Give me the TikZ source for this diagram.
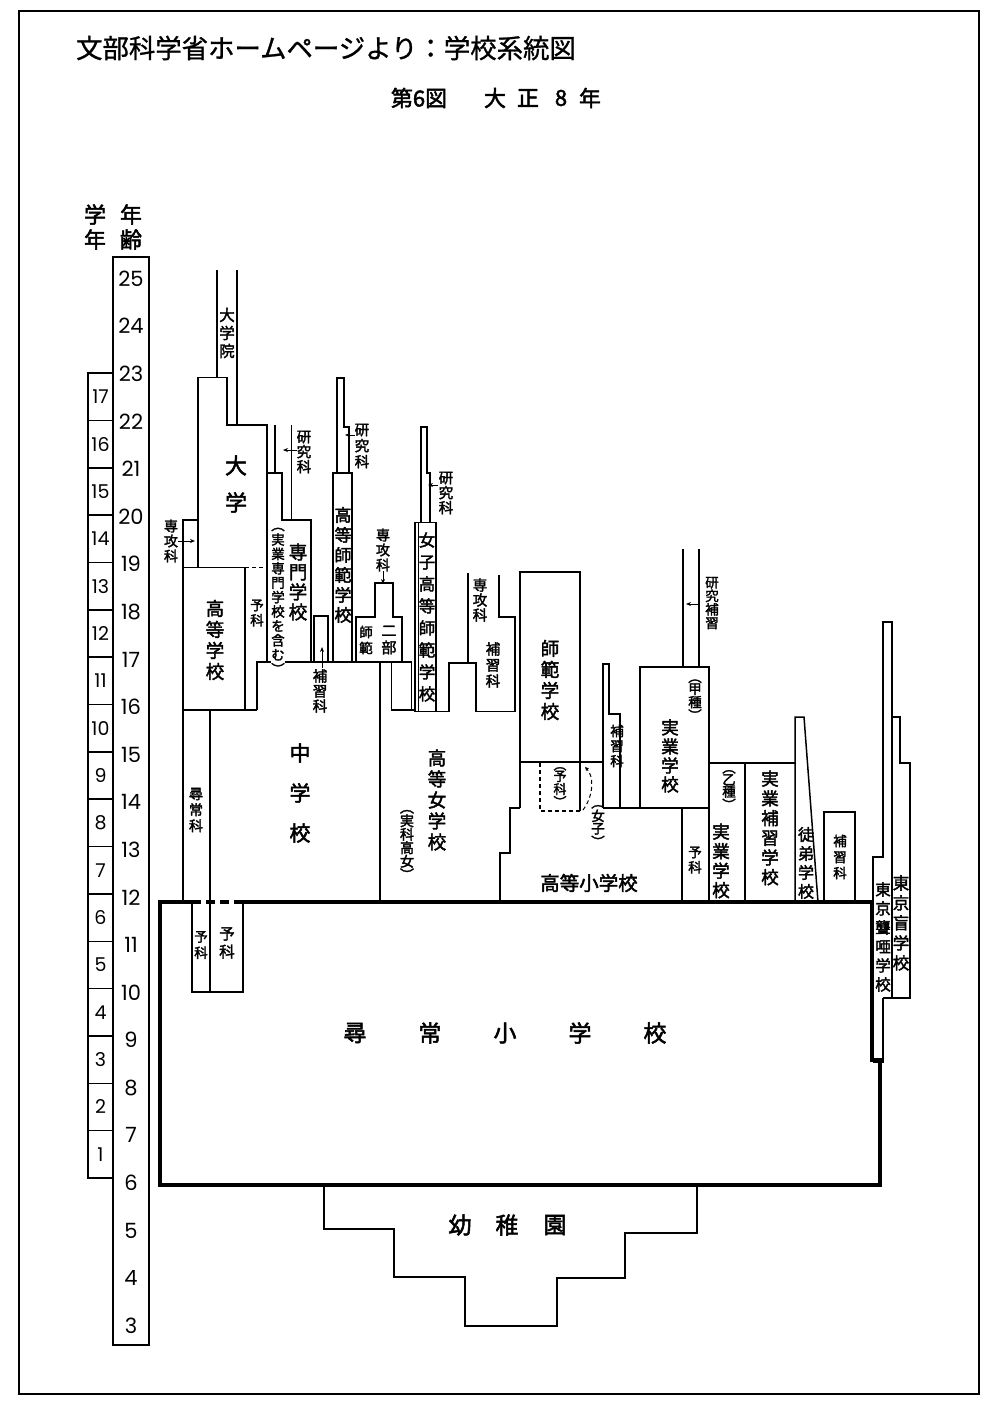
\documentclass[tikz,border=0pt]{standalone}
\usepackage{fontspec}
\newfontfamily\jp{Noto Sans CJK JP}
\newfontfamily\jpt[FakeBold=1]{Noto Sans CJK JP}
\newfontfamily\jpb[FakeBold=2.2]{Noto Sans CJK JP}
\newfontfamily\numf{Poppins}
\usetikzlibrary{arrows.meta}
\begin{document}
\begin{tikzpicture}[x=1pt,y=-1pt,
  ln/.style={draw=black, line width=1.5pt},
  bx/.style={draw=black, line width=3.6pt},
  dsh/.style={draw=black, line width=1.4pt, dash pattern=on 4pt off 3pt},
  bdsh/.style={draw=black, line width=3.6pt, dash pattern=on 9pt off 5pt},
  arr/.style={draw=black, line width=1pt, -{Stealth[length=5pt,width=4pt]}},
  vt/.style 2 args={inner sep=0pt, align=center, font={\jpb\fontsize{#1}{#2}\selectfont}},
  hz/.style={inner sep=0pt, font={\jpb\fontsize{#1}{#1}\selectfont}},
  agen/.style={inner sep=0pt, font={\numf\fontsize{21}{21}\selectfont}},
  grn/.style={inner sep=0pt, font={\numf\fontsize{19}{19}\selectfont}}]
\useasboundingbox (0,0) rectangle (1000,1406);
\fill[white] (0,0) rectangle (1000,1406);
% frame
\draw[line width=1.3pt] (19,11) rectangle (979,1394);
% titles
\node[inner sep=0pt, font={\jpt\fontsize{26.4}{26.4}\selectfont}] (title) at (326,48) {文部科学省ホームページより：学校系統図};
\node[hz=22] (st1) at (419,98) {第6図};
\node[hz=22] (st2) at (495,98) {大};
\node[hz=22] (st3) at (528,98) {正};
\node[hz=22] (st4) at (561,98) {8};
\node[hz=22] (st5) at (590,98) {年};
% scales
\node[vt={22}{25}] (hgakunen) at (95,227) {学\\年};
\node[vt={22}{25}] (hnenrei) at (131,227) {年\\齢};
\draw[ln] (113,257) rectangle (149,1345);
\draw[ln] (88,373) rectangle (113,1178);
\foreach \k in {1,...,16} \draw[ln] (88,{1178-\k*47.35}) -- (113,{1178-\k*47.35});
\foreach \k in {1,...,17} \node[grn] (g\k) at (100.5,{1178-(\k-0.5)*47.35}) {\k};
\foreach \a in {3,...,25} \node[agen] (a\a) at (131,{1183-(\a-6)*47.6}) {\a};
% ---------- thin lines ----------
% daigakuin
\draw[ln] (217,270) -- (217,377.5);
\draw[ln] (237,270) -- (237,425);
% daigaku outline and yoka
\draw[ln] (198,567.5) -- (198,377.5) -- (227,377.5) -- (227,425) -- (267,425) -- (267,662) -- (257,662) -- (257,710);
\draw[ln] (198,520) -- (183,520) -- (183,902);
\draw[ln] (183,567.5) -- (245,567.5);
\draw[dsh] (245,567.5) -- (267,567.5);
\draw[ln] (245,567.5) -- (245,710);
\draw[ln] (183,710) -- (257,710);
% chugakko
\draw[ln] (210,710) -- (210,992);
\draw[ln] (192,902) -- (192,992) -- (243,992) -- (243,902);
\draw[ln] (257,662) -- (411.7,662);
\draw[ln] (380,662) -- (380,902);
% senmon gakko
\draw[ln] (275,425) -- (275,473);
\draw[ln] (291.7,425) -- (291.7,520);
\draw[ln] (267,473) -- (282,473) -- (282,520) -- (311,520) -- (311,662);
\draw[ln] (314,662) -- (314,616) -- (328,616) -- (328,662);
% koto shihan
\draw[ln] (333,662) -- (333,473) -- (352,473) -- (352,662);
\draw[ln] (337,473) -- (337,378) -- (344,378) -- (344,427) -- (349,427) -- (349,473);
% shihan nibu
\draw[ln] (356,662) -- (356,617) -- (375,617) -- (375,583) -- (393,583) -- (393,617) -- (402,617) -- (402,662);
\draw[ln] (411.7,662) -- (411.7,710);
\draw[ln] (391.7,662) -- (391.7,710) -- (415,710);
% joshi koto shihan
\draw[ln] (415,522.7) rectangle (436,711.7);
\draw[ln] (418.5,522.7) -- (418.5,711.7);
\draw[ln] (421,522.7) -- (421,427) -- (427,427) -- (427,473) -- (430,473) -- (430,522.7);
\draw[ln] (436,711.7) -- (449,711.7) -- (449,663) -- (476,663) -- (476,711.7) -- (515,711.7) -- (515,617) -- (499,617) -- (499,575);
\draw[ln] (468,663) -- (468,573);
% shihan gakko
\draw[ln] (520,808) -- (520,572) -- (580,572) -- (580,811);
\draw[ln] (520,762) -- (603,762);
\draw[ln] (520,808) -- (510,808) -- (510,853) -- (500,853) -- (500,902);
\draw[dsh] (580,811) -- (540,811) -- (540,762);
\draw[dsh, line width=1pt, -{Stealth[length=4pt,width=4pt]}] (583,810) .. controls (594,795) and (594,776) .. (585,767);
% hoshuka column
\draw[ln] (603,808) -- (603,664) -- (609,664) -- (609,714) -- (620,714) -- (620,808);
\draw[ln] (603,808) -- (709,808);
% jitsugyo ko
\draw[ln] (640,808) -- (640,667) -- (709,667) -- (709,902);
\draw[ln] (682,808) -- (682,902);
\draw[ln] (683,549) -- (683,667);
\draw[ln] (699,549) -- (699,667);
% otsu, hoshu, totei
\draw[ln] (709,763) -- (795,763);
\draw[ln] (745,763) -- (745,902);
\draw[ln] (795,902) -- (795,717) -- (804,717) -- (818,902);
\draw[ln] (824,902) -- (824,812) -- (855,812) -- (855,902);
% tokyo roua / mo
\draw[ln] (873,1062) -- (873,857) -- (883,857) -- (883,622) -- (892,622) -- (892,998);
\draw[ln] (883,998) -- (883,1062) -- (873,1062);
\draw[ln] (892,717) -- (900,717) -- (900,763) -- (910,763) -- (910,998) -- (883,998);
% ---------- thick elementary box ----------
\draw[bx] (192,902) -- (160,902) -- (160,1185) -- (880,1185) -- (880,1060) -- (872,1060) -- (872,902) -- (243,902);
\draw[bdsh] (192,902) -- (243,902);
% yochien
\draw[ln] (324,1186) -- (324,1229) -- (394,1229) -- (394,1277) -- (465,1277) -- (465,1326) -- (557,1326) -- (557,1278) -- (625,1278) -- (625,1233) -- (697,1233) -- (697,1186);
% ---------- arrows ----------
\coordinate (p1a) at (178,541); \coordinate (p1b) at (195,541);
\coordinate (p2a) at (297,450); \coordinate (p2b) at (283,450);
\coordinate (p3a) at (355,435); \coordinate (p3b) at (345,435);
\coordinate (p4a) at (383,571); \coordinate (p4b) at (383,584);
\coordinate (p5a) at (438,485); \coordinate (p5b) at (428,485);
\coordinate (p6a) at (322,668); \coordinate (p6b) at (322,647);
\coordinate (p7a) at (698,604); \coordinate (p7b) at (686,604);
\draw[arr] (p1a) -- (p1b);
\draw[arr] (p2a) -- (p2b);
\draw[arr] (p3a) -- (p3b);
\draw[arr] (p4a) -- (p4b);
\draw[arr] (p5a) -- (p5b);
\draw[arr] (p6a) -- (p6b);
\draw[arr] (p7a) -- (p7b);
% ---------- labels ----------
\node[vt={15.5}{18}] (daigakuin) at (227,333) {大\\学\\院};
\node[vt={22}{37}] (daigaku) at (236,484) {大\\学};
\node[vt={14}{15}] (senkoL) at (171,541) {専\\攻\\科};
\node[vt={18.5}{21}] (kotogakko) at (215,640) {高\\等\\学\\校};
\node[vt={13.5}{15}] (yokaU) at (257,613) {予\\科};
\node[vt={14}{16}] (jinjoka) at (196,810) {尋\\常\\科};
\node[vt={13.5}{16}] (yokaL1) at (201,945) {予\\科};
\node[vt={15.5}{18}] (yokaL2) at (227,943) {予\\科};
\node[vt={21}{40}] (chugakko) at (300,793) {中\\学\\校};
\node[vt={14.5}{15}] (kenkyu1) at (304,452) {研\\究\\科};
\node[vt={18.5}{20}] (senmon) at (298,582) {専\\門\\学\\校};
\node[vt={13.5}{14.4}, fill=white] (jitsusen) at (278,601) {︵\\実\\業\\専\\門\\学\\校\\を\\含\\む\\︶};
\node[vt={14.5}{15}] (hoshu1) at (320,691) {補\\習\\科};
\node[vt={17}{20}] (kotoshihan) at (343,565) {高\\等\\師\\範\\学\\校};
\node[vt={14.5}{16}] (kenkyu2) at (362,446) {研\\究\\科};
\node[vt={13.5}{16}] (shihanS) at (366,640) {師\\範};
\node[vt={15}{17}] (nibu) at (389,640) {二\\部};
\node[vt={14}{15}] (senko2) at (383,550) {専\\攻\\科};
\node[vt={16.5}{22}] (joshikoshi) at (427,617) {女\\子\\高\\等\\師\\範\\学\\校};
\node[vt={14.5}{15}] (kenkyu3) at (446,493) {研\\究\\科};
\node[vt={14.5}{15}] (senko3) at (480,600) {専\\攻\\科};
\node[vt={14.5}{16}] (hoshu2) at (493,665) {補\\習\\科};
\node[vt={18.5}{21}] (shihan) at (550,680) {師\\範\\学\\校};
\node[vt={18.5}{21}] (kojo) at (437,800) {高\\等\\女\\学\\校};
\node[vt={14}{13.5}] (jikka) at (407,845) {︵\\実\\科\\高\\女\\︶};
\node[vt={13}{11.5}] (yokaD) at (560,787) {︵\\予\\科\\︶};
\node[vt={13.5}{11.5}] (joshi) at (598,826) {︵\\女\\子\\︶};
\node[vt={13.5}{15}] (hoshu3) at (617,746) {補\\習\\科};
\node[hz=19.5] (kotosho) at (589,883) {高等小学校};
\node[vt={13.5}{13.5}] (kenhoshu) at (712,603) {研\\究\\補\\習};
\node[vt={13.5}{12}] (kosyu) at (695,700) {︵\\甲\\種\\︶};
\node[vt={17.5}{19}] (jitsuA) at (670,756) {実\\業\\学\\校};
\node[vt={13.5}{15}] (yokaJ) at (695,860) {予\\科};
\node[vt={13.5}{12}] (otsushu) at (729,790) {︵\\乙\\種\\︶};
\node[vt={17.5}{19.5}] (jitsuB) at (721,861) {実\\業\\学\\校};
\node[vt={17.5}{19.7}] (jitsuhoshu) at (770,828) {実\\業\\補\\習\\学\\校};
\node[vt={16}{19}] (totei) at (806,863) {徒\\弟\\学\\校};
\node[vt={13.5}{16}] (hoshu4) at (840,857) {補\\習\\科};
\node[vt={15.5}{19}] (roua) at (883,937) {東\\京\\聾\\唖\\学\\校};
\node[vt={16.5}{20}] (mou) at (901,923) {東\\京\\盲\\学\\校};
\node[hz=23] (j1) at (355,1033) {尋};
\node[hz=23] (j2) at (430,1033) {常};
\node[hz=23] (j3) at (505,1033) {小};
\node[hz=23] (j4) at (580,1033) {学};
\node[hz=23] (j5) at (655,1033) {校};
\node[hz=23] (y1) at (460,1225) {幼};
\node[hz=23] (y2) at (507,1225) {稚};
\node[hz=23] (y3) at (555,1225) {園};
\end{tikzpicture}
\end{document}
